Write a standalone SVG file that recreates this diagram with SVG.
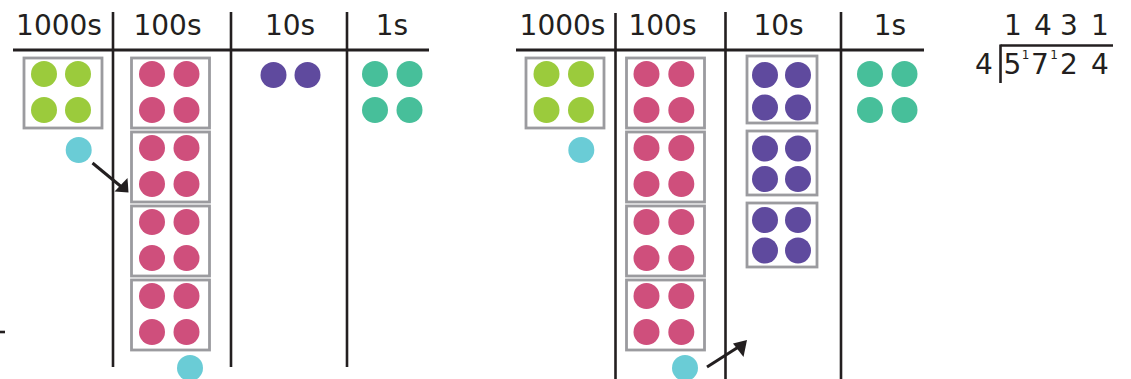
<svg xmlns="http://www.w3.org/2000/svg" width="1131" height="379" viewBox="0 0 1131 379">
<style>
.t{font-family:"DejaVu Sans",sans-serif;font-size:28px;fill:#231F20;text-anchor:middle}
.sup{font-family:"DejaVu Sans",sans-serif;font-size:12px;fill:#231F20;text-anchor:middle}
.ln{stroke:#231F20;stroke-width:2.6;fill:none}
.hl{stroke:#231F20;stroke-width:3;fill:none}
.bx{fill:#fff;stroke:#9B9B9F;stroke-width:2.8}
.g{fill:#9BCB3C}.p{fill:#CF4F7C}.v{fill:#5F4A9E}.tl{fill:#47BF9A}.b{fill:#6ACCD6}
</style>
<rect width="1131" height="379" fill="#fff"/>

<!-- LEFT TABLE -->
<g id="left-table">
<text class="t" x="59" y="35">1000s</text>
<text class="t" x="167.5" y="35">100s</text>
<text class="t" x="290" y="35">10s</text>
<text class="t" x="392" y="35">1s</text>
<line class="hl" x1="13" y1="50" x2="429" y2="50"/>
<line class="ln" x1="113" y1="12" x2="113" y2="367"/>
<line class="ln" x1="231" y1="12" x2="231" y2="367"/>
<line class="ln" x1="347" y1="12" x2="347" y2="367"/>
<line class="ln" x1="0" y1="332" x2="5" y2="332"/>
</g>
<g id="L-thousands">
<rect class="bx" x="24" y="58" width="78" height="70"/>
<circle class="g" cx="44" cy="74" r="13"/><circle class="g" cx="78" cy="74" r="13"/>
<circle class="g" cx="44" cy="110" r="13"/><circle class="g" cx="78" cy="110" r="13"/>
</g>
<g id="L-hundreds-1">
<rect class="bx" x="131.5" y="58" width="78" height="70"/>
<circle class="p" cx="152" cy="74" r="13"/><circle class="p" cx="186.5" cy="74" r="13"/>
<circle class="p" cx="152" cy="110" r="13"/><circle class="p" cx="186.5" cy="110" r="13"/>
</g>
<g id="L-hundreds-2">
<rect class="bx" x="131.5" y="132" width="78" height="70"/>
<circle class="p" cx="152" cy="148" r="13"/><circle class="p" cx="186.5" cy="148" r="13"/>
<circle class="p" cx="152" cy="184" r="13"/><circle class="p" cx="186.5" cy="184" r="13"/>
</g>
<g id="L-hundreds-3">
<rect class="bx" x="131.5" y="206" width="78" height="70"/>
<circle class="p" cx="152" cy="222" r="13"/><circle class="p" cx="186.5" cy="222" r="13"/>
<circle class="p" cx="152" cy="258" r="13"/><circle class="p" cx="186.5" cy="258" r="13"/>
</g>
<g id="L-hundreds-4">
<rect class="bx" x="131.5" y="280" width="78" height="70"/>
<circle class="p" cx="152" cy="296" r="13"/><circle class="p" cx="186.5" cy="296" r="13"/>
<circle class="p" cx="152" cy="332" r="13"/><circle class="p" cx="186.5" cy="332" r="13"/>
</g>
<g id="L-tens">
<circle class="v" cx="273.5" cy="75" r="13"/><circle class="v" cx="307.5" cy="75" r="13"/>
</g>
<g id="L-ones">
<circle class="tl" cx="375" cy="74" r="13"/><circle class="tl" cx="409.5" cy="74" r="13"/>
<circle class="tl" cx="375" cy="110" r="13"/><circle class="tl" cx="409.5" cy="110" r="13"/>
</g>
<g id="L-remainder"><circle class="b" cx="78.7" cy="150" r="13"/></g>
<g id="L-remainder-bottom"><circle class="b" cx="190" cy="368" r="13"/></g>

<!-- RIGHT TABLE -->
<g id="right-table">
<text class="t" x="562.5" y="35">1000s</text>
<text class="t" x="662.5" y="35">100s</text>
<text class="t" x="778.5" y="35">10s</text>
<text class="t" x="890" y="35">1s</text>
<line class="hl" x1="516" y1="50" x2="924" y2="50"/>
<line class="ln" x1="615.5" y1="13" x2="615.5" y2="379"/>
<line class="ln" x1="725.5" y1="12" x2="725.5" y2="379"/>
<line class="ln" x1="841" y1="12" x2="841" y2="379"/>
</g>
<g id="R-thousands">
<rect class="bx" x="526" y="58" width="78" height="70"/>
<circle class="g" cx="546.5" cy="74" r="13"/><circle class="g" cx="581" cy="74" r="13"/>
<circle class="g" cx="546.5" cy="110" r="13"/><circle class="g" cx="581" cy="110" r="13"/>
</g>
<g id="R-hundreds-1">
<rect class="bx" x="626.5" y="58" width="78" height="70"/>
<circle class="p" cx="646.5" cy="74" r="13"/><circle class="p" cx="681.3" cy="74" r="13"/>
<circle class="p" cx="646.5" cy="110" r="13"/><circle class="p" cx="681.3" cy="110" r="13"/>
</g>
<g id="R-hundreds-2">
<rect class="bx" x="626.5" y="132" width="78" height="70"/>
<circle class="p" cx="646.5" cy="148" r="13"/><circle class="p" cx="681.3" cy="148" r="13"/>
<circle class="p" cx="646.5" cy="184" r="13"/><circle class="p" cx="681.3" cy="184" r="13"/>
</g>
<g id="R-hundreds-3">
<rect class="bx" x="626.5" y="206" width="78" height="70"/>
<circle class="p" cx="646.5" cy="222" r="13"/><circle class="p" cx="681.3" cy="222" r="13"/>
<circle class="p" cx="646.5" cy="258" r="13"/><circle class="p" cx="681.3" cy="258" r="13"/>
</g>
<g id="R-hundreds-4">
<rect class="bx" x="626.5" y="280" width="78" height="70"/>
<circle class="p" cx="646.5" cy="296" r="13"/><circle class="p" cx="681.3" cy="296" r="13"/>
<circle class="p" cx="646.5" cy="332" r="13"/><circle class="p" cx="681.3" cy="332" r="13"/>
</g>
<g id="R-tens-1">
<rect class="bx" x="747" y="56" width="70" height="67"/>
<circle class="v" cx="765" cy="75" r="13"/><circle class="v" cx="798" cy="75" r="13"/>
<circle class="v" cx="765" cy="107.5" r="13"/><circle class="v" cx="798" cy="107.5" r="13"/>
</g>
<g id="R-tens-2">
<rect class="bx" x="747" y="131" width="70" height="64"/>
<circle class="v" cx="765" cy="148.5" r="13"/><circle class="v" cx="798" cy="148.5" r="13"/>
<circle class="v" cx="765" cy="179" r="13"/><circle class="v" cx="798" cy="179" r="13"/>
</g>
<g id="R-tens-3">
<rect class="bx" x="747" y="203" width="70" height="64"/>
<circle class="v" cx="765" cy="220" r="13"/><circle class="v" cx="798" cy="220" r="13"/>
<circle class="v" cx="765" cy="250.5" r="13"/><circle class="v" cx="798" cy="250.5" r="13"/>
</g>
<g id="R-ones">
<circle class="tl" cx="870" cy="74" r="13"/><circle class="tl" cx="904.5" cy="74" r="13"/>
<circle class="tl" cx="870" cy="110" r="13"/><circle class="tl" cx="904.5" cy="110" r="13"/>
</g>
<g id="R-remainder"><circle class="b" cx="581.3" cy="150" r="13"/></g>
<g id="R-remainder-bottom"><circle class="b" cx="685" cy="368" r="13"/></g>

<!-- CONNECTORS -->
<g id="connectors">
<line x1="92.5" y1="163" x2="121" y2="186.5" stroke="#231F20" stroke-width="3"/>
<polygon points="128.5,192.5 114.5,191.5 127.5,178" fill="#231F20"/>
<line x1="707" y1="367" x2="740" y2="346" stroke="#231F20" stroke-width="3"/>
<polygon points="747,340 733,343.5 743.5,357" fill="#231F20"/>
</g>

<!-- DIVISION -->
<g id="division">
<text class="t"><tspan x="1013" y="35">1</tspan><tspan x="1043" y="35">4</tspan><tspan x="1069" y="35">3</tspan><tspan x="1100" y="35">1</tspan></text>
<line class="ln" x1="1000.5" y1="45.5" x2="1113" y2="45.5"/>
<line class="ln" x1="1000.5" y1="44.5" x2="1000.5" y2="83"/>
<text class="t" x="984" y="73.5">4</text>
<text class="t"><tspan x="1012.5" y="73.5">5</tspan><tspan x="1040" y="73.5">7</tspan><tspan x="1069" y="73.5">2</tspan><tspan x="1100" y="73.5">4</tspan></text>
<text class="sup"><tspan x="1025.5" y="59">1</tspan><tspan x="1054" y="59">1</tspan></text>
</g>
</svg>
